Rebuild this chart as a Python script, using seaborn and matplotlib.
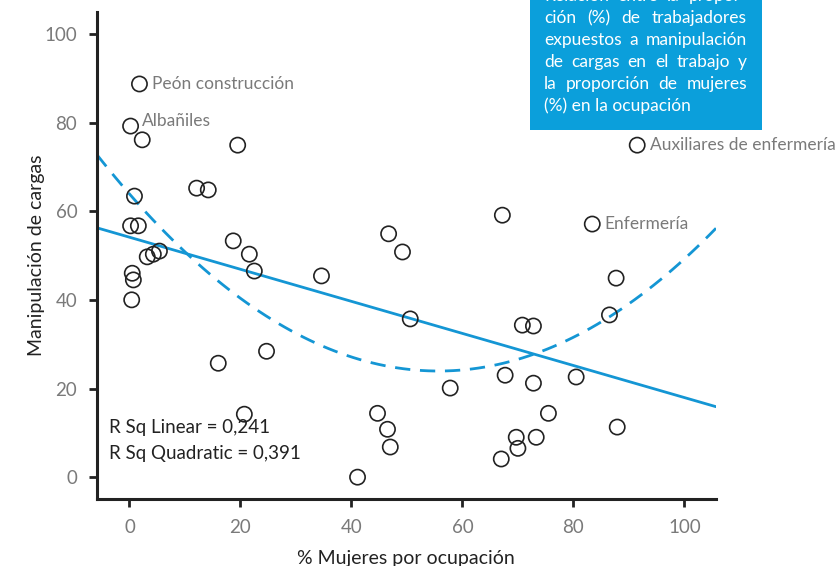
import numpy as np
import pandas as pd
import seaborn as sns
import matplotlib.pyplot as plt
from matplotlib.patches import Rectangle

# % women per occupation (x) and % workers exposed to load handling (y)
mujeres = [1.8, 0.2, 2.3, 19.5, 12.1, 14.2, 0.9, 0.2, 1.6, 18.7, 21.6, 3.2,
           4.3, 5.4, 0.5, 0.7, 0.4, 22.5, 34.6, 46.7, 49.2, 50.6, 67.2, 83.4,
           91.5, 87.7, 86.5, 70.8, 72.8, 16.0, 24.7, 57.8, 67.7, 72.8, 80.5,
           75.5, 20.7, 44.7, 46.5, 47.0, 41.1, 87.9, 69.7, 73.3, 70.0, 67.0]
cargas = [88.7, 79.2, 76.1, 74.9, 65.2, 64.8, 63.4, 56.7, 56.7, 53.3, 50.3, 49.7,
          50.3, 51.0, 46.0, 44.5, 40.0, 46.5, 45.4, 54.9, 50.8, 35.7, 59.1, 57.1,
          74.9, 44.9, 36.6, 34.3, 34.1, 25.7, 28.4, 20.1, 23.0, 21.2, 22.6,
          14.4, 14.2, 14.4, 10.8, 6.8, 0.0, 11.3, 9.0, 9.0, 6.5, 4.1]

etiquetas = {"Peón construcción": 0, "Albañiles": 1,
             "Enfermería": 23, "Auxiliares de enfermería": 24}

x_ticks = [0, 20, 40, 60, 80, 100]
y_ticks = [0, 20, 40, 60, 80, 100]

box_lines = ["Relación entre la propor-",
             "ción (%) de trabajadores",
             "expuestos a manipulación",
             "de cargas en el trabajo y",
             "la proporción de mujeres",
             "(%) en la ocupación"]

df = pd.DataFrame({"mujeres": mujeres, "cargas": cargas})

sns.set_style("ticks")
plt.rcParams['font.family'] = ['Lato', 'DejaVu Sans']

blue = "#1496d4"
dark = "#222222"
grey = "#7a7a7a"

fig = plt.figure(figsize=(8.39, 5.66), dpi=100)
ax = fig.add_axes([0.1153, 0.1178, 0.8534 - 0.1153, 0.9793 - 0.1178])
ax.set_xlim(-5.9, 105.7)
ax.set_ylim(-5.0, 105.0)

# fit lines
sns.regplot(data=df, x="mujeres", y="cargas", order=1, ci=None, truncate=False,
            scatter=False, color=blue, line_kws={"lw": 2}, ax=ax)
sns.regplot(data=df, x="mujeres", y="cargas", order=2, ci=None, truncate=False,
            scatter=False, color=blue, line_kws={"lw": 2, "ls": (0, (5.5, 3.5))}, ax=ax)

# points
sns.scatterplot(data=df, x="mujeres", y="cargas", s=120, facecolor="none",
                edgecolor=dark, linewidth=1.2, ax=ax, zorder=5, clip_on=False)

for txt, i in etiquetas.items():
    ax.annotate(txt, (mujeres[i], cargas[i]), xytext=(9, 0), textcoords="offset points",
                ha="left", va="center", fontsize=12.5, color=grey,
                annotation_clip=False)
# Albañiles label sits a bit higher
ax.texts[1].set_position((8, 4))

ax.text(0.019, 0.148, "R Sq Linear = 0,241", transform=ax.transAxes,
        fontsize=13.5, color=dark, va="center")
ax.text(0.019, 0.094, "R Sq Quadratic = 0,391", transform=ax.transAxes,
        fontsize=13.5, color=dark, va="center")

ax.set_xticks(x_ticks)
ax.set_yticks(y_ticks)
ax.tick_params(axis="both", direction="out", length=6, width=2, color=dark,
               labelsize=13.5, labelcolor=grey, pad=8)
for side in ["left", "bottom"]:
    ax.spines[side].set_linewidth(2.2)
    ax.spines[side].set_color(dark)
sns.despine(ax=ax)

ax.set_xlabel("% Mujeres por ocupación", fontsize=14, color=dark, labelpad=10)
ax.set_ylabel("Manipulación de cargas", fontsize=14, color=dark, labelpad=0)

# title box (top right, cut by the image edge)
fig.patches.append(Rectangle((530 / 839, 1 - 130 / 566), 232 / 839, 140 / 566,
                             transform=fig.transFigure, facecolor="#0b9fdb",
                             edgecolor="none", zorder=10))

# justified text inside the box
renderer = fig.canvas.get_renderer()
x_left, x_right = 544, 747
for k, line in enumerate(box_lines):
    y = 1 - (-4 + 22 * k) / 566
    words = line.split(" ")
    if k == len(box_lines) - 1:
        fig.text(x_left / 839, y, line, fontsize=12.5, color="white",
                 va="center", ha="left", zorder=11)
        continue
    arts = [fig.text(0, y, w, fontsize=12.5, color="white", va="center",
                     ha="left", zorder=11) for w in words]
    widths = [a.get_window_extent(renderer).width for a in arts]
    gap = (x_right - x_left - sum(widths)) / (len(words) - 1)
    xpos = x_left
    for a, w in zip(arts, widths):
        a.set_x(xpos / 839)
        xpos += w + gap

fig.savefig("out.png", dpi=100)
